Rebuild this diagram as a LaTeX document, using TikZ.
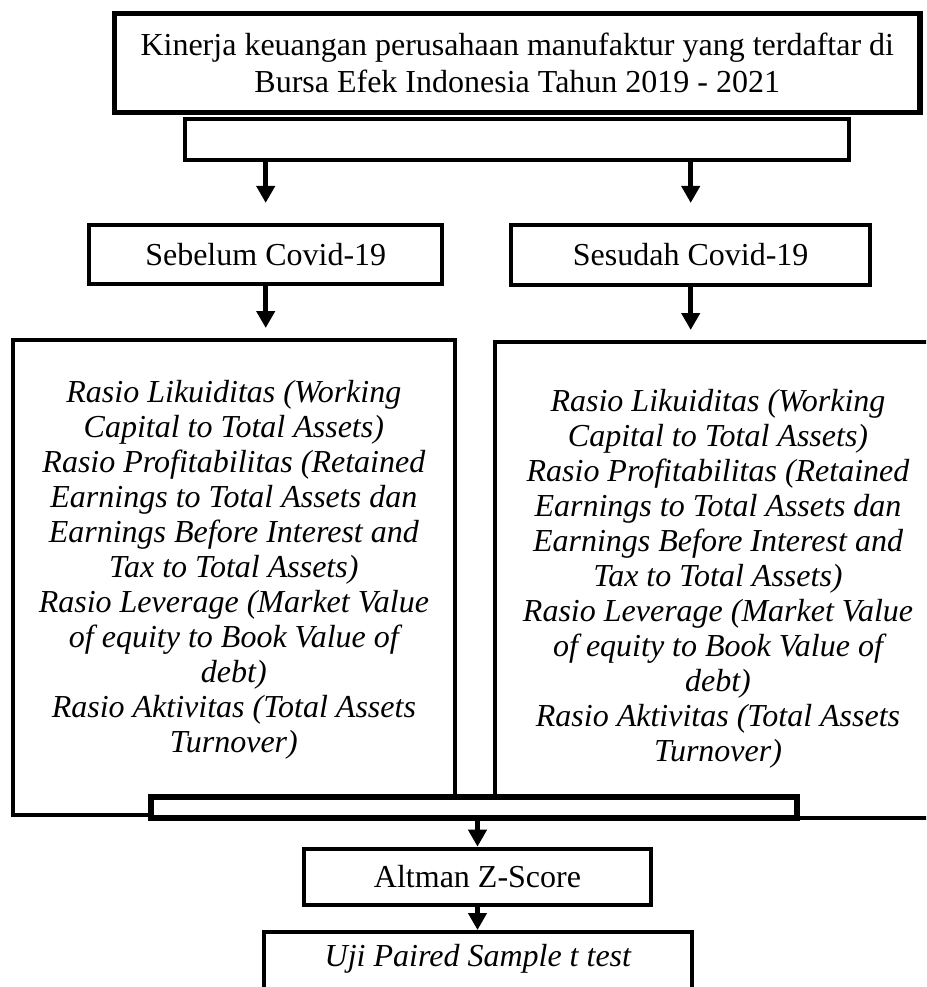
\documentclass[tikz,border=0pt]{standalone}
\usepackage{fontspec}
\setmainfont{Liberation Serif}
\usetikzlibrary{arrows.meta}
\begin{document}
\begin{tikzpicture}[x=0.75pt,y=-0.75pt,
  box/.style={draw=black,line width=3pt,rectangle,inner sep=0pt,align=center,
    font=\fontsize{24}{27.6}\selectfont},
  bigtext/.style={inner sep=0pt,align=center,anchor=north,
    font=\itshape\fontsize{24}{26.25}\selectfont},
  arr/.style={draw=black,line width=3.5pt,-{Triangle[width=13.5pt,length=12.75pt]}}
]
\useasboundingbox (0,0) rectangle (926,987);
\clip (0,0) rectangle (926,987);

\node[box,line width=4.1pt,minimum width=604.1pt,minimum height=73.9pt] (T) at (517.25,63)
  {Kinerja keuangan perusahaan manufaktur yang terdaftar di\\Bursa Efek Indonesia Tahun 2019 - 2021};
\node[box,minimum width=498pt,minimum height=30.75pt] (E) at (517,139.5) {};

\node[box,minimum width=264.45pt,minimum height=44.5pt] (S1) at (265.7,254.3) {Sebelum Covid-19};
\node[box,minimum width=269.55pt,minimum height=45.2pt] (S2) at (690.7,254.8) {Sesudah Covid-19};

\node[box,minimum width=331.3pt,minimum height=356.25pt] (L) at (233.85,577.5) {};
\node[box,minimum width=334.5pt,minimum height=357pt] (R) at (718,580) {};

\node[bigtext] (Lt) at (233.85,380) {Rasio Likuiditas (Working\\Capital to Total Assets)\\Rasio Profitabilitas (Retained\\Earnings to Total Assets dan\\Earnings Before Interest and\\Tax to Total Assets)\\Rasio Leverage (Market Value\\of equity to Book Value of\\debt)\\Rasio Aktivitas (Total Assets\\Turnover)};
\node[bigtext] (Rt) at (718,389) {Rasio Likuiditas (Working\\Capital to Total Assets)\\Rasio Profitabilitas (Retained\\Earnings to Total Assets dan\\Earnings Before Interest and\\Tax to Total Assets)\\Rasio Leverage (Market Value\\of equity to Book Value of\\debt)\\Rasio Aktivitas (Total Assets\\Turnover)};

\node[box,line width=4.5pt,fill=white,minimum width=484.5pt,minimum height=16.1pt] (B) at (474,807.75) {};

\node[box,minimum width=259.7pt,minimum height=42.2pt] (A) at (477.5,876.8) {Altman Z-Score};
\node[box,minimum width=321.2pt,minimum height=60pt,text height=16.5pt,text depth=25.5pt,
  font=\itshape\fontsize{24}{27.6}\selectfont] (U) at (477.9,972) {Uji Paired Sample t test};

\draw[arr,shorten >=14.8pt] (E.south -| S1.north) -- (S1.north);
\draw[arr,shorten >=14.8pt] (E.south -| S2.north) -- (S2.north);
\draw[arr,shorten >=7.5pt] (S1.south) -- (S1.south |- L.north);
\draw[arr,shorten >=7.5pt] (S2.south) -- (S2.south |- R.north);
\draw[arr] (B.south -| A.north) -- (A.north);
\draw[arr] (A.south) -- (A.south |- U.north);
\end{tikzpicture}
\end{document}
